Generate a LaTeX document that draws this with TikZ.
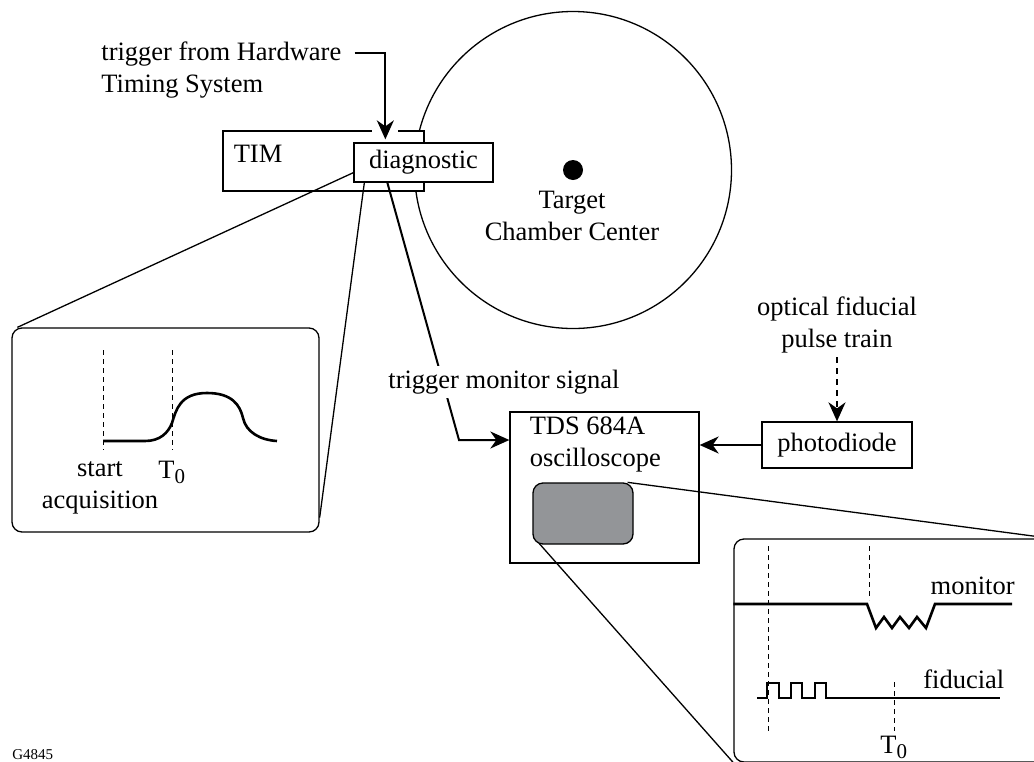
\documentclass[tikz,border=0pt]{standalone}
\usepackage{fontspec}
\setmainfont{Liberation Serif}
\usepackage{tikz}
\usetikzlibrary{positioning}
\usetikzlibrary{calc}
\usetikzlibrary{arrows.meta}

\definecolor{screengray}{RGB}{147,149,152}
\newcommand{\Tzero}{T\raisebox{-2.5pt}{\fontsize{10.5}{10}\selectfont 0}}

\begin{document}
\begin{tikzpicture} [
    x=0.5pt, y=-0.5pt,                         % one unit = one pixel of the sketch
    font=\fontsize{13.25}{15.75}\selectfont,
    ]
% -------------------------------------------------
\tikzset{
  base/.style={draw, line width=0.65pt, inner sep=0pt},
  rect/.style={base, rectangle, fill=white},
  lbl/.style={inner sep=0pt, align=center},
  line/.style={draw, line width=1pt, -{Stealth[length=9.5pt, width=8.5pt, inset=3pt]}},
  dots/.style={line, dash pattern=on 3pt off 2.5pt},
  zoomline/.style={draw, line width=0.65pt},
  trace/.style={draw, line width=1.3pt},
  guide/.style={draw, line width=0.5pt, dash pattern=on 2.5pt off 2pt}
}

    \useasboundingbox (0,0) rectangle (1034,761);
    \clip (0,0) rectangle (1034,761);

    % chamber, TIM and diagnostic
    \node [base, circle, minimum size=158.5pt] (tcc) at (573,170) {};
    \fill (tcc.center) circle [radius=10];                                       % chamber center
    \node [lbl, anchor=base] (tgt) at (572,240) {Target\\Chamber Center};

    \node [rect, minimum width=100.5pt, minimum height=30pt] (tim) at (323.5,161) {};
    \node [lbl, anchor=base west] (timtxt) at ($(tim.north west)+(11,32)$) {TIM};
    \node [rect, minimum width=69.5pt, minimum height=19.5pt] (diag) at (423.5,162.5) {diagnostic};
    \draw [white, line width=2pt] ($(tim.north west)+(150,0)$) -- ($(tim.north west)+(176,0)$); % gap for arrow

    \node [lbl, align=left, anchor=base west] (hts) at (101,92) {trigger from Hardware\\Timing System};
    \path [line] ($(hts.base east)+(13,-39)$) -| ($(diag.north west)+(32,-3)$);

    % diagnostic record
    \node [base, rectangle, rounded corners=5pt, minimum width=153.5pt, minimum height=102pt] (inA) at (165.5,430) {};
    \path [zoomline] ($(diag.south west)+(0,-10)$) -- ($(inA.north west)+(6,0)$);
    \path [zoomline] ($(diag.south west)+(11,0)$) -- ($(inA.south east)+(0,-15)$);
    \path [guide] (103,350) -- (103,450);
    \path [guide] (172,350) -- (172,450);
    \path [trace] (103,441) -- (145,441) .. controls (160,441) and (168,433) .. (172,423)
        .. controls (176,410) and (180,393) .. (207,393)
        .. controls (232,393) and (240,405) .. (243,418)
        .. controls (246,432) and (260,440) .. (277,441);
    \node [lbl, anchor=base] (acq) at (100,508) {start\\acquisition};
    \node [lbl, anchor=base west] (tza) at (158,478) {\Tzero};

    % oscilloscope and photodiode
    \node [rect, minimum width=94.5pt, minimum height=75.5pt] (osc) at (604.5,487.5) {};
    \node [lbl, align=left, anchor=base west] (osctxt) at ($(osc.north west)+(20,55)$) {TDS 684A\\oscilloscope};
    \node [rect, minimum width=75pt, minimum height=23pt] (pd) at (837,445) {photodiode};
    \node [lbl, anchor=base] (opt) at (837,347) {optical fiducial\\pulse train};
    \path [dots] ($(opt.south)+(0,4)$) -- (pd.north);
    \path [line] (pd.west) -- (pd.west -| osc.east);

    \coordinate (kink) at (459,440);
    \path [line] ($(diag.south west)+(34,0)$) -- (kink) -- (kink -| osc.west);
    \node [lbl, fill=white, inner sep=2pt, anchor=base west] (tms) at (384,388) {trigger monitor signal};

    % scope trace record
    \node [base, rectangle, rounded corners=5pt, minimum width=158pt, minimum height=111.5pt] (inB) at (892,650.5) {};
    \node [base, rectangle, rounded corners=5pt, fill=screengray, minimum width=50pt, minimum height=30.5pt] (scr) at (583,513.5) {};
    \path [zoomline] ($(scr.north east)+(-6,0)$) -- (inB.north east);
    \path [zoomline] ($(scr.south west)+(7,-1)$) -- (inB.south west);

    \path [guide] (768,546) -- (768,731);
    \path [guide] (869,546) -- (869,600);
    \path [guide] (894,682) -- (894,731);
    \path [trace] (inB.west |- 0,604) -- (867,604) -- (876,628) -- (884,617) -- (892,628) -- (900,617)
        -- (909,628) -- (917,617) -- (926,628) -- (935,604) -- (1012,604);
    \path [trace] (757,698) -- (767,698) -- (767,683) -- (779,683) -- (779,698) -- (791,698) -- (791,683)
        -- (802,683) -- (802,698) -- (815,698) -- (815,683) -- (826,683) -- (826,698) -- (1000,698);
    \node [lbl, anchor=base east] (mon) at (1015,594) {monitor};
    \node [lbl, anchor=base west] (fid) at (923,688) {fiducial};
    \node [lbl, anchor=base west] (tzb) at (880,753) {\Tzero};

    \node [lbl, anchor=base west, font=\fontsize{7.5}{9}\selectfont] (fig) at (12,759) {G4845};

\end{tikzpicture}
\end{document}
